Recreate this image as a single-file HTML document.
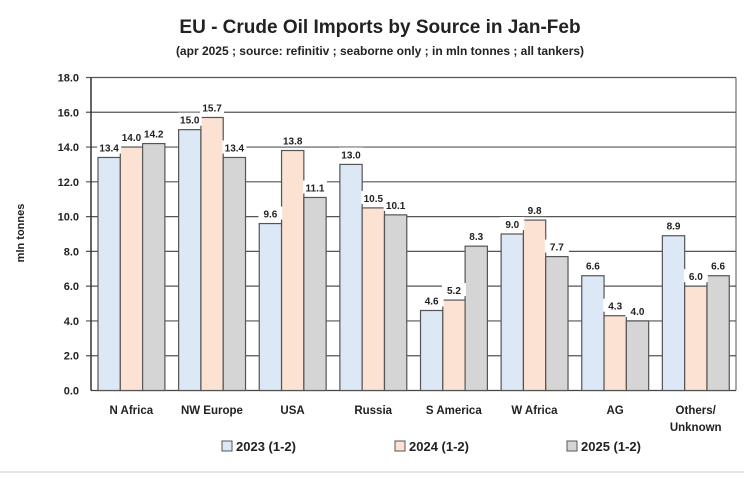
<!DOCTYPE html>
<html><head><meta charset="utf-8"><style>
body{margin:0;background:#fff;}
svg text{font-family:"Liberation Sans",sans-serif;}
</style></head><body>
<svg id="s" width="744" height="475" xmlns="http://www.w3.org/2000/svg">
<rect width="744" height="475" fill="#fff"/>
<text x="380" y="33" text-anchor="middle" font-size="19" font-weight="bold" fill="#222">EU - Crude Oil Imports by Source in Jan-Feb</text>
<text x="380" y="55" text-anchor="middle" font-size="12" font-weight="bold" fill="#222">(apr 2025 ; source: refinitiv ; seaborne only ; in mln tonnes ; all tankers)</text>
<text transform="translate(24,233) rotate(-90)" text-anchor="middle" font-size="11" font-weight="bold" fill="#222">mln tonnes</text>
<g id="g"></g>
<line x1="0" y1="472" x2="744" y2="472" stroke="#ddd" stroke-width="1.5"/>
</svg>
<script>
var g=document.getElementById('g'),h='';
var L=91,R=736,Y0=390.5,k=17.39;
function y(v){return Y0-v*k;}
for(var i=0;i<=9;i++){var v=i*2,yy=y(v);
 h+='<line x1="'+(i==0?L:L-5)+'" y1="'+yy+'" x2="'+R+'" y2="'+yy+'" stroke="'+(i==0?'#444':'#555')+'" stroke-width="1.2"/>';
 h+='<text x="79" y="'+(yy+4)+'" text-anchor="end" font-size="11" font-weight="bold" fill="#222">'+v.toFixed(1)+'</text>';}
h+='<line x1="'+L+'" y1="'+y(18)+'" x2="'+L+'" y2="'+Y0+'" stroke="#333" stroke-width="1.5"/>';
h+='<line x1="'+R+'" y1="'+y(18)+'" x2="'+R+'" y2="'+Y0+'" stroke="#555" stroke-width="1"/>';
var cats=['N Africa','NW Europe','USA','Russia','S America','W Africa','AG','Others/|Unknown'];
var d=[[13.4,14.0,14.2],[15.0,15.7,13.4],[9.6,13.8,11.1],[13.0,10.5,10.1],[4.6,5.2,8.3],[9.0,9.8,7.7],[6.6,4.3,4.0],[8.9,6.0,6.6]];
var col=['#dce8f5','#fbe2d3','#d5d5d5'];
var cw=(R-L)/8,bw=22.3;
var lab='';
for(var c=0;c<8;c++){var x0=L+c*cw+7;
 for(var s=0;s<3;s++){var v=d[c][s],bx=x0+s*bw,by=y(v);
  h+='<rect x="'+bx+'" y="'+by+'" width="'+bw+'" height="'+(Y0-by)+'" fill="'+col[s]+'" stroke="#555" stroke-width="1.2"/>';
  lab+='<rect x="'+(bx+bw/2-12)+'" y="'+(by-17)+'" width="24" height="13" fill="#fff"/>';
  lab+='<text x="'+(bx+bw/2)+'" y="'+(by-6)+'" text-anchor="middle" font-size="10" font-weight="bold" fill="#222">'+v.toFixed(1)+'</text>';}
 var cx=L+c*cw+cw/2,parts=cats[c].split('|');
 for(var p=0;p<parts.length;p++)h+='<text x="'+cx+'" y="'+(414+p*17)+'" text-anchor="middle" font-size="11.5" font-weight="bold" fill="#222">'+parts[p]+'</text>';}
h+=lab;
var lx=[222,395,567],ln=['2023 (1-2)','2024 (1-2)','2025 (1-2)'];
for(var s=0;s<3;s++){h+='<rect x="'+lx[s]+'" y="441" width="10" height="10" fill="'+col[s]+'" stroke="#555" stroke-width="1"/>';
 h+='<text x="'+(lx[s]+14)+'" y="451" font-size="13" font-weight="bold" fill="#222">'+ln[s]+'</text>';}
g.innerHTML=h;
</script>
</body></html>
